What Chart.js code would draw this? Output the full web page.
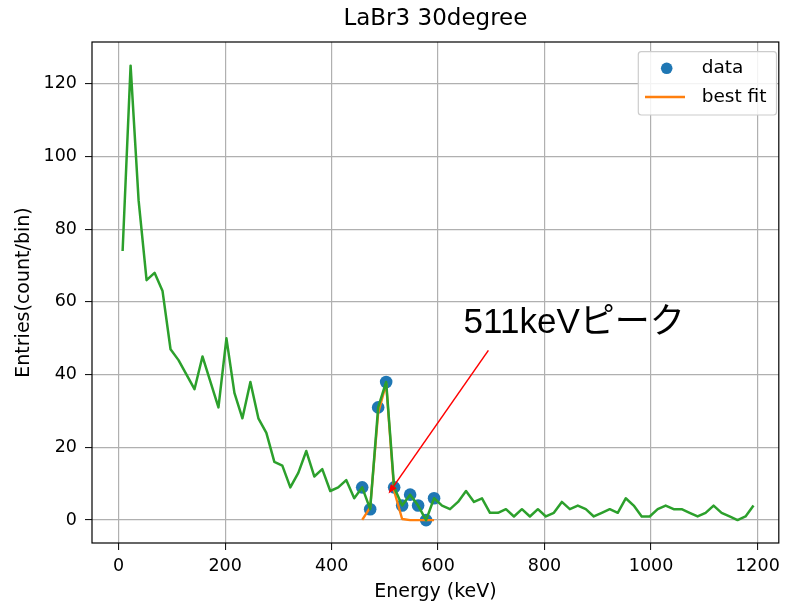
<!DOCTYPE html>
<html><head><meta charset="utf-8">
<script src="https://cdn.jsdelivr.net/npm/chart.js@4.4.0/dist/chart.umd.min.js"></script>
<style>html,body{margin:0;padding:0;background:#fff}</style>
</head><body>
<canvas id="c" width="786" height="604" style="display:block;width:786px;height:604px"></canvas>
<script>
// ---- data ----
const energy = [7.5,22.5,37.5,52.5,67.5,82.5,97.5,112.5,127.5,142.5,157.5,172.5,187.5,202.5,217.5,232.5,247.5,262.5,277.5,292.5,
  307.5,322.5,337.5,352.5,367.5,382.5,397.5,412.5,427.5,442.5,457.5,472.5,487.5,502.5,517.5,532.5,547.5,562.5,577.5,592.5,
  607.5,622.5,637.5,652.5,667.5,682.5,697.5,712.5,727.5,742.5,757.5,772.5,787.5,802.5,817.5,832.5,847.5,862.5,877.5,892.5,
  907.5,922.5,937.5,952.5,967.5,982.5,997.5,1012.5,1027.5,1042.5,1057.5,1072.5,1087.5,1102.5,1117.5,1132.5,1147.5,1162.5,1177.5,1192.5];
const entries = [74,125,88,66,68,63,47,44,40,36,45,38,31,50,35,28,38,28,24,16,
  15,9,13,19,12,14,8,9,11,6,9,3,31,38,9,4,7,4,0,6,
  4,3,5,8,5,6,2,2,3,1,3,1,3,1,2,5,3,4,3,1,
  2,3,2,6,4,1,1,3,4,3,3,2,1,2,4,2,1,0,1,4];
const peakEnergy = [457.5,472.5,487.5,502.5,517.5,532.5,547.5,562.5,577.5,592.5];
const peakEntries = [9,3,31,38,9,4,7,4,0,6];
const fitEntries = [0.05,3.5,29.5,37.5,8,0.3,0,0,0,0];
const xTicks = [0,200,400,600,800,1000,1200];
const yTicks = [0,20,40,60,80,100,120];
const xRange = [-50,1240];
const yRange = [-6.3,131.5];
const titleText = 'LaBr3 30degree';
const xLabel = 'Energy (keV)';
const yLabel = 'Entries(count/bin)';
const legendLabels = ['data','best fit'];
const annotationText = '511keVピーク';
const annotationTextPos = [648, 51.5];
const annotationTail = [694.5, 46.7];
const annotationTip = [507, 7.3];

const FONT = 'DejaVu Sans';
const tickFont = {family: FONT, size: 17.5};
const labelFont = {family: FONT, size: 19};

const overlayPlugin = {
  id: 'overlay',
  afterDatasetsDraw(chart) {
    const {ctx, chartArea: ca, scales: {x, y}} = chart;
    ctx.save();
    // frame (all four spines)
    ctx.strokeStyle = '#000';
    ctx.lineWidth = 1.2;
    ctx.strokeRect(ca.left, ca.top, ca.right - ca.left, ca.bottom - ca.top);
    // annotation text
    ctx.fillStyle = '#000';
    ctx.font = '35px "Liberation Sans", "Noto Sans CJK JP", sans-serif';
    ctx.textBaseline = 'alphabetic';
    ctx.textAlign = 'left';
    ctx.fillText(annotationText, x.getPixelForValue(annotationTextPos[0]), y.getPixelForValue(annotationTextPos[1]));
    // arrow
    const x0 = x.getPixelForValue(annotationTail[0]), y0 = y.getPixelForValue(annotationTail[1]);
    const x1 = x.getPixelForValue(annotationTip[0]), y1 = y.getPixelForValue(annotationTip[1]);
    const ang = Math.atan2(y1 - y0, x1 - x0);
    const hl = 9, hw = 3.5;
    const bx = x1 - hl * Math.cos(ang), by = y1 - hl * Math.sin(ang);
    ctx.strokeStyle = '#ff0000'; ctx.fillStyle = '#ff0000';
    ctx.lineWidth = 1.5;
    ctx.beginPath(); ctx.moveTo(x0, y0); ctx.lineTo(bx, by); ctx.stroke();
    ctx.beginPath();
    ctx.moveTo(x1, y1);
    ctx.lineTo(bx + hw * Math.sin(ang), by - hw * Math.cos(ang));
    ctx.lineTo(bx - hw * Math.sin(ang), by + hw * Math.cos(ang));
    ctx.closePath(); ctx.fill();
    // legend box
    ctx.font = '18.5px "' + FONT + '"';
    const tw = Math.max(...legendLabels.map(t => ctx.measureText(t).width));
    const bw = 63.4 + tw + 10, bh = 63.3;
    const bl = ca.right - 2.3 - bw, bt = ca.top + 9.7;
    ctx.fillStyle = 'rgba(255,255,255,0.85)';
    ctx.strokeStyle = '#cccccc';
    ctx.lineWidth = 1.2;
    ctx.beginPath(); ctx.roundRect(bl, bt, bw, bh, 3); ctx.fill(); ctx.stroke();
    const ds = chart.data.datasets;
    const rows = [bt + 16.6, bt + 45.3];
    ctx.fillStyle = ds[0].backgroundColor;
    ctx.beginPath(); ctx.arc(bl + 28.4, rows[0], 5.8, 0, Math.PI * 2); ctx.fill();
    ctx.strokeStyle = ds[1].borderColor; ctx.lineWidth = 2.4;
    ctx.beginPath(); ctx.moveTo(bl + 6.7, rows[1]); ctx.lineTo(bl + 46.7, rows[1]); ctx.stroke();
    ctx.fillStyle = '#000';
    ctx.textBaseline = 'middle';
    ctx.fillText(ds[0].label, bl + 63.4, rows[0]);
    ctx.fillText(ds[1].label, bl + 63.4, rows[1]);
    ctx.restore();
  }
};

const plainTick = v => String(v);

new Chart(document.getElementById('c'), {
  type: 'scatter',
  data: {
    datasets: [
      {label: legendLabels[0], data: peakEnergy.map((v, i) => ({x: v, y: peakEntries[i]})),
       backgroundColor: '#1f77b4', borderColor: '#1f77b4', pointRadius: 6.3, pointHoverRadius: 6.3, pointBorderWidth: 0, showLine: false, order: 3},
      {label: legendLabels[1], data: peakEnergy.map((v, i) => ({x: v, y: fitEntries[i]})),
       borderColor: '#ff7f0e', backgroundColor: '#ff7f0e', borderWidth: 2.4, pointRadius: 0, showLine: true, tension: 0, borderJoinStyle: 'round', order: 2},
      {label: 'spectrum', data: energy.map((v, i) => ({x: v, y: entries[i]})),
       borderColor: '#2ca02c', backgroundColor: '#2ca02c', borderWidth: 2.5, pointRadius: 0, showLine: true, tension: 0, borderJoinStyle: 'round', order: 1}
    ]
  },
  options: {
    responsive: false, animation: false, devicePixelRatio: 1,
    layout: {padding: {top: 0, right: 7, bottom: 0, left: 0}},
    plugins: {
      legend: {display: false},
      tooltip: {enabled: false},
      title: {display: true, fullSize: false, text: titleText, color: '#000', font: {family: FONT, size: 23, weight: 'normal'}, padding: {top: 5, bottom: 9.4}}
    },
    scales: {
      x: {
        type: 'linear', min: xRange[0], max: xRange[1],
        afterBuildTicks: s => { s.ticks = xTicks.map(v => ({value: v})); },
        afterFit: s => { s.height = 61; },
        ticks: {color: '#000', font: tickFont, padding: 6, maxRotation: 0, autoSkip: false, callback: plainTick},
        grid: {color: '#b0b0b0', lineWidth: 1.2, tickColor: '#000', tickLength: 7, tickWidth: 1},
        border: {display: false},
        title: {display: true, text: xLabel, color: '#000', font: labelFont, padding: {top: 0, bottom: 1}}
      },
      y: {
        type: 'linear', min: yRange[0], max: yRange[1],
        afterBuildTicks: s => { s.ticks = yTicks.map(v => ({value: v})); },
        afterFit: s => { s.width = 92; },
        ticks: {color: '#000', font: tickFont, padding: 8, autoSkip: false, callback: plainTick},
        grid: {color: '#b0b0b0', lineWidth: 1.2, tickColor: '#000', tickLength: 7, tickWidth: 1},
        border: {display: false},
        title: {display: true, text: yLabel, color: '#000', font: labelFont, padding: {top: 13, bottom: 0}}
      }
    }
  },
  plugins: [overlayPlugin]
});
</script>
</body></html>
